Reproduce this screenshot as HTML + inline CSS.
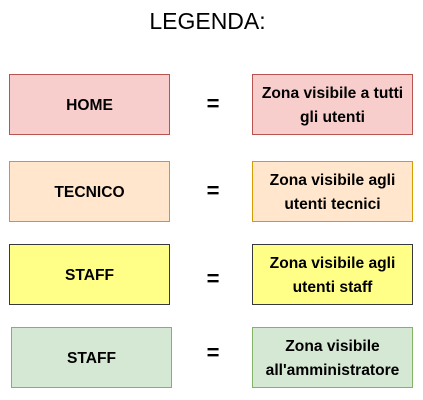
<!DOCTYPE html>
<html><head><style>
body{margin:0;width:423px;height:400px;background:#fff;position:relative;font-family:"Liberation Sans",Arial,sans-serif;overflow:hidden}
.b{position:absolute;box-sizing:border-box;border:1px solid;display:flex;align-items:center;justify-content:center;text-align:center;font-weight:bold;font-size:15.6px;line-height:24px;color:#000;padding-top:3px}
.eq{position:absolute;font-size:22px;width:20px;text-align:center;left:203px;font-weight:bold}
</style></head><body>
<div style="position:absolute;left:0;width:415px;top:8px;text-align:center;font-size:23px">LEGENDA:</div>

<div class="b" style="left:9px;top:74px;width:161px;height:61px;background:#f8cecc;border-color:#b85450">HOME</div>
<div class="eq" style="top:91px">=</div>
<div class="b" style="left:252px;top:74px;width:161px;height:61px;background:#f8cecc;border-color:#b85450">Zona visibile a tutti<br>gli utenti</div>

<div class="b" style="left:9px;top:161px;width:161px;height:61px;background:#ffe6cc;border-color:#d79b00">TECNICO</div>
<div class="eq" style="top:178px">=</div>
<div class="b" style="left:252px;top:161px;width:161px;height:61px;background:#ffe6cc;border-color:#d79b00">Zona visibile agli<br>utenti tecnici</div>

<div class="b" style="left:9px;top:244px;width:161px;height:61px;background:#ffff88;border-color:#36393d">STAFF</div>
<div class="eq" style="top:266px">=</div>
<div class="b" style="left:252px;top:244px;width:161px;height:61px;background:#ffff88;border-color:#36393d">Zona visibile agli<br>utenti staff</div>

<div class="b" style="left:11px;top:327px;width:161px;height:61px;background:#d5e8d4;border-color:#82b366">STAFF</div>
<div class="eq" style="top:340px">=</div>
<div class="b" style="left:252px;top:327px;width:161px;height:61px;background:#d5e8d4;border-color:#82b366">Zona visibile<br>all'amministratore</div>
</body></html>
